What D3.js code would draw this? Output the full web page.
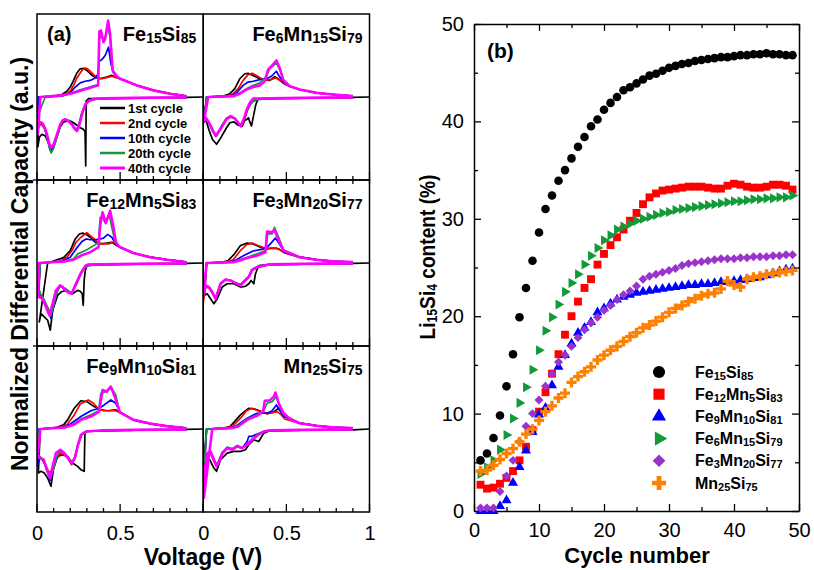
<!DOCTYPE html>
<html>
<head>
<meta charset="utf-8">
<script src="https://cdn.jsdelivr.net/npm/d3@7"></script>
<style>
  body { margin: 0; background: #fff; }
  text { font-family: "Liberation Sans", Arial, sans-serif; }
</style>
</head>
<body>
<div id="chart"></div>
<script>
// ---------- panel (a): dQ/dV curves, values in half-panel units, [V, value] ----------
const cycleLabels = ['1st cycle', '2nd cycle', '10th cycle', '20th cycle', '40th cycle'];
const cycleColors = ['#000000', '#ff0000', '#0000ff', '#129a3a', '#ff00ff'];

const titleFe15Si85 = ['Fe', '15', 'Si', '85'];
const titleFe6Mn15Si79 = ['Fe', '6', 'Mn', '15', 'Si', '79'];
const titleFe12Mn5Si83 = ['Fe', '12', 'Mn', '5', 'Si', '83'];
const titleFe3Mn20Si77 = ['Fe', '3', 'Mn', '20', 'Si', '77'];
const titleFe9Mn10Si81 = ['Fe', '9', 'Mn', '10', 'Si', '81'];
const titleMn25Si75 = ['Mn', '25', 'Si', '75'];

const tailFe15Si85 = [[0.50,0.22],[0.55,0.18],[0.60,0.14],[0.70,0.08],[0.80,0.04],[0.90,0.01]];
const chargeFe15Si85 = [
  [[0.01,0],[0.10,0.01],[0.15,0.03],[0.18,0.07],[0.20,0.12],[0.22,0.20],[0.24,0.29],[0.26,0.34],[0.28,0.345],[0.30,0.32],[0.32,0.28],[0.34,0.25],[0.36,0.23],[0.38,0.22],[0.40,0.23],[0.42,0.24],[0.45,0.26],[0.47,0.24]],
  [[0.01,0],[0.12,0.01],[0.17,0.03],[0.20,0.07],[0.22,0.14],[0.24,0.23],[0.27,0.32],[0.29,0.35],[0.31,0.33],[0.33,0.29],[0.35,0.25],[0.37,0.23],[0.39,0.22],[0.41,0.23],[0.43,0.24],[0.45,0.25],[0.47,0.24]],
  [[0.01,0],[0.15,0.01],[0.20,0.05],[0.23,0.12],[0.26,0.17],[0.29,0.19],[0.32,0.20],[0.35,0.23],[0.365,0.27],[0.375,0.43],[0.39,0.45],[0.41,0.50],[0.43,0.60],[0.445,0.40],[0.46,0.29],[0.48,0.24]],
  [[0.0,-0.25],[0.05,0],[0.15,0.02],[0.20,0.04],[0.25,0.08],[0.30,0.11],[0.35,0.14],[0.367,0.15],[0.375,0.70],[0.385,0.74],[0.40,0.68],[0.41,0.72],[0.428,0.86],[0.44,0.70],[0.455,0.32],[0.48,0.25]],
  [[0.005,-0.45],[0.02,0],[0.15,0.02],[0.20,0.04],[0.25,0.07],[0.30,0.10],[0.35,0.13],[0.368,0.14],[0.375,0.79],[0.385,0.80],[0.40,0.66],[0.41,0.70],[0.428,0.92],[0.44,0.75],[0.455,0.32],[0.48,0.25]]
];
const dischargeFe15Si85 = [
  [[1.0,0],[0.90,-0.005],[0.60,-0.01],[0.40,-0.015],[0.31,-0.02],[0.296,-0.05],[0.293,-0.83],[0.289,-0.42],[0.28,-0.39],[0.26,-0.37],[0.24,-0.34],[0.22,-0.31],[0.20,-0.29],[0.18,-0.29],[0.16,-0.30],[0.14,-0.36],[0.12,-0.48],[0.10,-0.60],[0.085,-0.67],[0.07,-0.56],[0.05,-0.47],[0.03,-0.45],[0.015,-0.48],[0.005,-0.60]],
  [[0.90,-0.01],[0.60,-0.015],[0.40,-0.02],[0.34,-0.03],[0.31,-0.05],[0.29,-0.10],[0.27,-0.20],[0.255,-0.32],[0.24,-0.40],[0.225,-0.38],[0.21,-0.33],[0.19,-0.29],[0.17,-0.27],[0.155,-0.28],[0.14,-0.33],[0.12,-0.46],[0.10,-0.58],[0.085,-0.62],[0.075,-0.58],[0.06,-0.46],[0.045,-0.38],[0.03,-0.34],[0.015,-0.33],[0.005,-0.40]],
  [[0.90,-0.01],[0.60,-0.015],[0.40,-0.02],[0.34,-0.03],[0.31,-0.05],[0.29,-0.10],[0.27,-0.19],[0.255,-0.31],[0.24,-0.39],[0.225,-0.37],[0.21,-0.32],[0.19,-0.28],[0.17,-0.27],[0.155,-0.28],[0.14,-0.34],[0.12,-0.48],[0.10,-0.60],[0.085,-0.65],[0.075,-0.60],[0.06,-0.47],[0.045,-0.37],[0.03,-0.32],[0.015,-0.30],[0.005,-0.35]],
  [[0.90,-0.01],[0.60,-0.015],[0.40,-0.02],[0.34,-0.03],[0.31,-0.05],[0.29,-0.10],[0.27,-0.19],[0.255,-0.31],[0.24,-0.40],[0.225,-0.38],[0.21,-0.33],[0.19,-0.29],[0.17,-0.27],[0.155,-0.28],[0.14,-0.34],[0.12,-0.49],[0.10,-0.62],[0.085,-0.67],[0.075,-0.62],[0.06,-0.48],[0.045,-0.37],[0.03,-0.32],[0.015,-0.30],[0.003,-0.28]],
  [[0.90,-0.005],[0.60,-0.01],[0.40,-0.015],[0.34,-0.025],[0.31,-0.05],[0.29,-0.09],[0.275,-0.18],[0.262,-0.28],[0.25,-0.37],[0.24,-0.41],[0.225,-0.38],[0.21,-0.33],[0.19,-0.29],[0.17,-0.27],[0.155,-0.28],[0.14,-0.33],[0.12,-0.45],[0.10,-0.57],[0.085,-0.61],[0.075,-0.57],[0.06,-0.45],[0.045,-0.36],[0.03,-0.31],[0.015,-0.30],[0.005,-0.40]]
];

const tailFe6Mn15Si79 = [[0.52,0.13],[0.58,0.09],[0.68,0.05],[0.78,0.03],[0.90,0.01]];
const chargeFe6Mn15Si79 = [
  [[0.02,0],[0.12,0.01],[0.16,0.04],[0.19,0.10],[0.22,0.22],[0.25,0.28],[0.27,0.285],[0.30,0.26],[0.33,0.23],[0.36,0.21],[0.40,0.20],[0.43,0.245],[0.45,0.22],[0.48,0.17]],
  [[0.02,0],[0.14,0.01],[0.18,0.04],[0.21,0.10],[0.24,0.20],[0.27,0.27],[0.295,0.285],[0.32,0.26],[0.35,0.22],[0.38,0.21],[0.41,0.21],[0.435,0.23],[0.455,0.21],[0.48,0.17]],
  [[0.02,0],[0.16,0.01],[0.20,0.05],[0.24,0.14],[0.27,0.18],[0.30,0.19],[0.34,0.21],[0.38,0.22],[0.41,0.25],[0.44,0.31],[0.46,0.24],[0.49,0.16]],
  [[0.02,0],[0.18,0.01],[0.22,0.05],[0.26,0.10],[0.30,0.14],[0.34,0.17],[0.38,0.25],[0.40,0.34],[0.44,0.41],[0.465,0.31],[0.49,0.17]],
  [[0.005,-0.28],[0.03,0],[0.18,0.01],[0.22,0.04],[0.26,0.09],[0.30,0.12],[0.34,0.14],[0.37,0.19],[0.39,0.33],[0.41,0.37],[0.44,0.44],[0.46,0.35],[0.48,0.21]]
];
const dischargeFe6Mn15Si79 = [
  [[1.0,0],[0.90,-0.005],[0.60,-0.01],[0.40,-0.015],[0.33,-0.02],[0.315,-0.10],[0.305,-0.20],[0.29,-0.35],[0.28,-0.30],[0.272,-0.25],[0.262,-0.27],[0.25,-0.28],[0.235,-0.35],[0.21,-0.34],[0.185,-0.30],[0.16,-0.31],[0.14,-0.37],[0.10,-0.51],[0.08,-0.57],[0.055,-0.51],[0.035,-0.40],[0.02,-0.30],[0.005,-0.25]],
  [[0.90,-0.01],[0.60,-0.015],[0.40,-0.02],[0.33,-0.03],[0.30,-0.05],[0.28,-0.10],[0.262,-0.18],[0.245,-0.30],[0.228,-0.36],[0.21,-0.31],[0.19,-0.26],[0.165,-0.24],[0.14,-0.27],[0.11,-0.36],[0.08,-0.46],[0.06,-0.42],[0.04,-0.33],[0.02,-0.27],[0.005,-0.30]],
  [[0.90,-0.01],[0.60,-0.015],[0.40,-0.02],[0.33,-0.03],[0.30,-0.05],[0.28,-0.09],[0.262,-0.17],[0.245,-0.28],[0.228,-0.35],[0.21,-0.31],[0.19,-0.26],[0.165,-0.24],[0.14,-0.26],[0.11,-0.35],[0.08,-0.46],[0.06,-0.42],[0.04,-0.33],[0.02,-0.27],[0.005,-0.30]],
  [[0.90,-0.01],[0.60,-0.015],[0.40,-0.02],[0.33,-0.03],[0.30,-0.05],[0.28,-0.09],[0.262,-0.16],[0.245,-0.27],[0.228,-0.35],[0.21,-0.31],[0.19,-0.26],[0.165,-0.24],[0.14,-0.26],[0.11,-0.35],[0.08,-0.47],[0.06,-0.43],[0.04,-0.34],[0.02,-0.27],[0.005,-0.29]],
  [[0.90,-0.005],[0.60,-0.01],[0.40,-0.015],[0.33,-0.02],[0.30,-0.02],[0.28,-0.07],[0.262,-0.15],[0.245,-0.26],[0.225,-0.35],[0.21,-0.31],[0.19,-0.26],[0.165,-0.23],[0.14,-0.26],[0.11,-0.37],[0.075,-0.47],[0.055,-0.39],[0.035,-0.31],[0.015,-0.25],[0.005,-0.28]]
];

const tailFe12Mn5Si83 = [[0.50,0.19],[0.58,0.12],[0.68,0.07],[0.78,0.04],[0.90,0.01]];
const chargeFe12Mn5Si83 = [
  [[0.014,-0.71],[0.064,0],[0.16,0.065],[0.20,0.15],[0.23,0.29],[0.255,0.35],[0.275,0.36],[0.30,0.34],[0.32,0.31],[0.35,0.25],[0.38,0.23],[0.42,0.24],[0.45,0.25],[0.48,0.21]],
  [[0.02,0],[0.14,0.02],[0.18,0.07],[0.21,0.15],[0.235,0.25],[0.264,0.31],[0.30,0.365],[0.32,0.33],[0.345,0.29],[0.37,0.24],[0.40,0.23],[0.43,0.23],[0.46,0.25],[0.49,0.21]],
  [[0.02,0],[0.15,0.02],[0.20,0.07],[0.235,0.17],[0.27,0.26],[0.295,0.29],[0.32,0.28],[0.35,0.28],[0.38,0.29],[0.40,0.30],[0.425,0.345],[0.45,0.31],[0.48,0.21]],
  [[0.02,0],[0.17,0.02],[0.22,0.05],[0.245,0.11],[0.30,0.16],[0.35,0.22],[0.37,0.25],[0.38,0.55],[0.395,0.55],[0.408,0.49],[0.434,0.59],[0.45,0.43],[0.47,0.25],[0.49,0.21]],
  [[0.005,-0.41],[0.012,0],[0.17,0.02],[0.22,0.04],[0.265,0.09],[0.32,0.13],[0.37,0.19],[0.38,0.45],[0.394,0.61],[0.414,0.48],[0.44,0.63],[0.46,0.43],[0.475,0.25],[0.49,0.21]]
];
const dischargeFe12Mn5Si83 = [
  [[1.0,0],[0.90,-0.005],[0.60,-0.01],[0.40,-0.015],[0.30,-0.02],[0.29,-0.10],[0.284,-0.20],[0.278,-0.51],[0.272,-0.37],[0.26,-0.34],[0.244,-0.33],[0.214,-0.37],[0.174,-0.33],[0.144,-0.35],[0.124,-0.39],[0.094,-0.57],[0.08,-0.81],[0.064,-0.69],[0.044,-0.65],[0.024,-0.61],[0.014,-0.71]],
  [[0.90,-0.01],[0.60,-0.015],[0.40,-0.02],[0.31,-0.03],[0.29,-0.04],[0.264,-0.12],[0.234,-0.26],[0.21,-0.37],[0.19,-0.34],[0.164,-0.31],[0.14,-0.27],[0.12,-0.34],[0.10,-0.49],[0.078,-0.60],[0.06,-0.52],[0.034,-0.43],[0.015,-0.40],[0.01,-0.40]],
  [[0.90,-0.01],[0.60,-0.015],[0.40,-0.02],[0.31,-0.03],[0.28,-0.07],[0.26,-0.15],[0.234,-0.27],[0.21,-0.36],[0.19,-0.34],[0.164,-0.30],[0.14,-0.27],[0.12,-0.35],[0.10,-0.52],[0.084,-0.67],[0.065,-0.55],[0.04,-0.44],[0.02,-0.38],[0.01,-0.30]],
  [[0.90,-0.01],[0.60,-0.015],[0.40,-0.02],[0.31,-0.03],[0.28,-0.06],[0.26,-0.14],[0.234,-0.26],[0.21,-0.36],[0.19,-0.34],[0.164,-0.30],[0.14,-0.27],[0.12,-0.35],[0.10,-0.51],[0.082,-0.64],[0.065,-0.54],[0.04,-0.43],[0.02,-0.37],[0.01,-0.30]],
  [[0.90,-0.005],[0.60,-0.01],[0.40,-0.015],[0.31,-0.02],[0.294,-0.03],[0.264,-0.12],[0.234,-0.25],[0.208,-0.37],[0.184,-0.35],[0.164,-0.31],[0.14,-0.27],[0.114,-0.33],[0.094,-0.49],[0.074,-0.63],[0.054,-0.53],[0.034,-0.43],[0.014,-0.41],[0.005,-0.41]]
];

const tailFe3Mn20Si77 = [[0.58,0.07],[0.68,0.04],[0.78,0.02],[0.90,0.01]];
const chargeFe3Mn20Si77 = [
  [[0.02,0],[0.12,0.01],[0.15,0.03],[0.184,0.10],[0.224,0.21],[0.264,0.24],[0.30,0.23],[0.344,0.19],[0.384,0.17],[0.42,0.18],[0.454,0.17],[0.484,0.13]],
  [[0.02,0],[0.14,0.01],[0.18,0.04],[0.224,0.15],[0.26,0.22],[0.294,0.24],[0.33,0.21],[0.37,0.18],[0.41,0.18],[0.44,0.18],[0.46,0.16],[0.49,0.12]],
  [[0.02,0],[0.16,0.01],[0.20,0.04],[0.244,0.09],[0.30,0.145],[0.364,0.17],[0.394,0.21],[0.434,0.30],[0.464,0.21],[0.49,0.13]],
  [[0.02,0],[0.18,0.01],[0.22,0.04],[0.264,0.07],[0.324,0.11],[0.374,0.15],[0.388,0.35],[0.414,0.35],[0.428,0.43],[0.454,0.31],[0.484,0.15]],
  [[0.02,0],[0.18,0.01],[0.22,0.03],[0.264,0.06],[0.324,0.09],[0.374,0.13],[0.384,0.38],[0.414,0.37],[0.428,0.40],[0.454,0.27],[0.484,0.15]]
];
const dischargeFe3Mn20Si77 = [
  [[1.0,0],[0.90,-0.005],[0.60,-0.01],[0.40,-0.015],[0.334,-0.03],[0.314,-0.13],[0.304,-0.25],[0.288,-0.21],[0.274,-0.25],[0.254,-0.28],[0.224,-0.29],[0.184,-0.25],[0.144,-0.25],[0.114,-0.29],[0.084,-0.43],[0.064,-0.49],[0.044,-0.43],[0.024,-0.37],[0.008,-0.39]],
  [[0.90,-0.01],[0.60,-0.015],[0.40,-0.02],[0.33,-0.05],[0.294,-0.09],[0.274,-0.17],[0.254,-0.21],[0.224,-0.27],[0.194,-0.25],[0.164,-0.21],[0.134,-0.20],[0.104,-0.25],[0.084,-0.37],[0.074,-0.43],[0.054,-0.36],[0.034,-0.30],[0.014,-0.29],[0.0,-0.47]],
  [[0.90,-0.01],[0.60,-0.015],[0.40,-0.02],[0.33,-0.04],[0.294,-0.08],[0.274,-0.16],[0.254,-0.20],[0.224,-0.26],[0.194,-0.24],[0.164,-0.21],[0.134,-0.20],[0.104,-0.25],[0.084,-0.37],[0.074,-0.43],[0.054,-0.35],[0.034,-0.29],[0.014,-0.28],[0.005,-0.30]],
  [[0.90,-0.01],[0.60,-0.015],[0.40,-0.02],[0.33,-0.04],[0.294,-0.08],[0.274,-0.16],[0.254,-0.20],[0.224,-0.26],[0.194,-0.24],[0.164,-0.21],[0.134,-0.20],[0.104,-0.25],[0.084,-0.37],[0.074,-0.43],[0.054,-0.35],[0.034,-0.29],[0.014,-0.28],[0.005,-0.38]],
  [[0.90,-0.005],[0.60,-0.01],[0.40,-0.015],[0.324,-0.05],[0.294,-0.08],[0.274,-0.17],[0.254,-0.21],[0.224,-0.27],[0.194,-0.24],[0.164,-0.21],[0.134,-0.20],[0.104,-0.25],[0.084,-0.37],[0.074,-0.43],[0.054,-0.35],[0.034,-0.29],[0.014,-0.27],[0.004,-0.37]]
];

const tailFe9Mn10Si81 = [[0.50,0.20],[0.58,0.11],[0.68,0.065],[0.78,0.035],[0.90,0.01]];
const chargeFe9Mn10Si81 = [
  [[0.02,0],[0.12,0.02],[0.16,0.05],[0.184,0.11],[0.224,0.25],[0.264,0.34],[0.30,0.33],[0.344,0.27],[0.384,0.23],[0.424,0.22],[0.474,0.23]],
  [[0.02,0],[0.14,0.02],[0.18,0.05],[0.224,0.17],[0.26,0.30],[0.308,0.35],[0.34,0.31],[0.37,0.24],[0.40,0.22],[0.44,0.22],[0.47,0.22]],
  [[0.01,0],[0.16,0.02],[0.20,0.06],[0.264,0.15],[0.324,0.22],[0.374,0.25],[0.404,0.29],[0.444,0.35],[0.474,0.31],[0.494,0.23]],
  [[0.015,0],[0.17,0.02],[0.22,0.06],[0.264,0.12],[0.324,0.17],[0.37,0.22],[0.384,0.43],[0.414,0.45],[0.444,0.51],[0.474,0.41],[0.494,0.23]],
  [[0.02,0],[0.17,0.02],[0.22,0.05],[0.264,0.11],[0.324,0.15],[0.374,0.21],[0.394,0.47],[0.42,0.45],[0.444,0.51],[0.464,0.41],[0.494,0.23]]
];
const dischargeFe9Mn10Si81 = [
  [[1.0,0],[0.90,-0.005],[0.60,-0.01],[0.40,-0.02],[0.30,-0.025],[0.288,-0.05],[0.284,-0.51],[0.264,-0.49],[0.244,-0.45],[0.214,-0.41],[0.184,-0.33],[0.154,-0.31],[0.124,-0.33],[0.104,-0.41],[0.084,-0.69],[0.064,-0.59],[0.044,-0.53],[0.024,-0.51],[0.008,-0.53]],
  [[0.90,-0.01],[0.60,-0.015],[0.40,-0.02],[0.30,-0.03],[0.27,-0.06],[0.244,-0.20],[0.228,-0.34],[0.208,-0.43],[0.184,-0.35],[0.164,-0.31],[0.144,-0.29],[0.12,-0.36],[0.10,-0.47],[0.074,-0.53],[0.054,-0.45],[0.034,-0.38],[0.014,-0.33],[0.005,-0.30]],
  [[0.90,-0.01],[0.60,-0.015],[0.40,-0.02],[0.30,-0.03],[0.27,-0.06],[0.244,-0.21],[0.228,-0.35],[0.208,-0.42],[0.184,-0.34],[0.164,-0.29],[0.14,-0.26],[0.12,-0.34],[0.10,-0.48],[0.08,-0.62],[0.06,-0.50],[0.04,-0.38],[0.02,-0.34],[0.0,-0.45]],
  [[0.90,-0.01],[0.60,-0.015],[0.40,-0.02],[0.30,-0.03],[0.27,-0.06],[0.244,-0.21],[0.228,-0.35],[0.208,-0.42],[0.184,-0.34],[0.164,-0.29],[0.14,-0.26],[0.12,-0.33],[0.10,-0.47],[0.08,-0.60],[0.06,-0.49],[0.04,-0.37],[0.02,-0.34],[0.0,-0.30]],
  [[0.90,-0.005],[0.60,-0.01],[0.40,-0.015],[0.294,-0.03],[0.264,-0.07],[0.244,-0.21],[0.228,-0.35],[0.208,-0.41],[0.184,-0.34],[0.164,-0.29],[0.14,-0.25],[0.114,-0.29],[0.094,-0.45],[0.08,-0.59],[0.06,-0.49],[0.04,-0.37],[0.02,-0.35],[0.004,-0.33]]
];

const tailMn25Si75 = [[0.58,0.07],[0.68,0.04],[0.78,0.02],[0.90,0.01]];
const chargeMn25Si75 = [
  [[0.02,0],[0.12,0.01],[0.16,0.03],[0.184,0.08],[0.224,0.17],[0.274,0.25],[0.31,0.24],[0.35,0.21],[0.384,0.185],[0.42,0.20],[0.454,0.25],[0.484,0.17]],
  [[0.02,0],[0.14,0.01],[0.18,0.04],[0.224,0.13],[0.26,0.22],[0.294,0.25],[0.33,0.22],[0.384,0.185],[0.444,0.21],[0.464,0.18],[0.49,0.12]],
  [[0.02,0],[0.16,0.01],[0.20,0.04],[0.264,0.13],[0.324,0.19],[0.384,0.19],[0.414,0.22],[0.44,0.29],[0.464,0.21],[0.484,0.15]],
  [[0.02,0],[0.17,0.01],[0.21,0.04],[0.264,0.12],[0.324,0.17],[0.364,0.22],[0.384,0.31],[0.414,0.33],[0.44,0.39],[0.464,0.25],[0.484,0.17]],
  [[0.004,-0.83],[0.054,0],[0.17,0.01],[0.21,0.03],[0.264,0.11],[0.324,0.16],[0.36,0.21],[0.37,0.34],[0.40,0.345],[0.424,0.39],[0.434,0.44],[0.454,0.31],[0.48,0.20],[0.52,0.12]]
];
const dischargeMn25Si75 = [
  [[1.0,0],[0.90,-0.01],[0.60,-0.015],[0.40,-0.02],[0.364,-0.05],[0.334,-0.15],[0.304,-0.13],[0.274,-0.19],[0.254,-0.25],[0.224,-0.27],[0.184,-0.27],[0.144,-0.29],[0.104,-0.37],[0.08,-0.51],[0.064,-0.47],[0.034,-0.35],[0.008,-0.29]],
  [[0.90,-0.01],[0.60,-0.015],[0.40,-0.02],[0.364,-0.03],[0.324,-0.07],[0.294,-0.13],[0.264,-0.19],[0.234,-0.23],[0.204,-0.21],[0.174,-0.25],[0.144,-0.23],[0.114,-0.29],[0.09,-0.41],[0.08,-0.45],[0.064,-0.39],[0.044,-0.29],[0.024,-0.31],[0.008,-0.45]],
  [[0.90,-0.01],[0.60,-0.015],[0.40,-0.02],[0.364,-0.03],[0.324,-0.06],[0.29,-0.09],[0.274,-0.09],[0.264,-0.15],[0.234,-0.23],[0.204,-0.20],[0.174,-0.24],[0.144,-0.22],[0.114,-0.28],[0.09,-0.40],[0.08,-0.43],[0.064,-0.37],[0.044,-0.28],[0.024,-0.30],[0.008,-0.42]],
  [[0.90,-0.01],[0.60,-0.015],[0.40,-0.02],[0.364,-0.03],[0.324,-0.07],[0.294,-0.12],[0.264,-0.18],[0.234,-0.23],[0.204,-0.20],[0.174,-0.24],[0.144,-0.22],[0.114,-0.29],[0.09,-0.40],[0.08,-0.44],[0.064,-0.37],[0.044,-0.28],[0.024,-0.30],[0.008,-0.40]],
  [[0.90,-0.005],[0.60,-0.01],[0.40,-0.015],[0.364,-0.03],[0.324,-0.08],[0.294,-0.13],[0.264,-0.19],[0.234,-0.23],[0.204,-0.21],[0.174,-0.25],[0.144,-0.23],[0.114,-0.30],[0.094,-0.40],[0.08,-0.45],[0.064,-0.37],[0.044,-0.27],[0.024,-0.29],[0.014,-0.45]]
];

// ---------- panel (b): Li15Si4 content (%) for cycles 1..49 ----------
const liFe15Si85 = [5.2,5.9,7.5,9.8,12.8,16.1,19.9,22.9,25.7,28.6,31.0,32.4,33.9,35.0,36.2,37.4,38.4,39.5,40.2,41.2,41.9,42.5,43.2,43.5,43.9,44.3,44.7,44.9,45.2,45.5,45.7,45.9,46.0,46.2,46.3,46.4,46.5,46.6,46.6,46.7,46.8,46.8,46.9,46.9,47.0,46.9,46.9,46.8,46.8];
const liFe12Mn5Si83 = [2.7,2.3,2.4,2.8,3.4,4.1,5.2,6.6,8.3,10.2,12.2,14.1,16.1,18.1,20.0,21.5,22.9,23.8,25.3,26.4,27.3,28.1,28.9,29.8,30.6,31.5,32.2,32.6,32.9,33.0,33.1,33.2,33.3,33.3,33.3,33.2,33.1,33.1,33.4,33.6,33.5,33.3,33.2,33.2,33.3,33.5,33.5,33.4,33.0];
const liFe9Mn10Si81 = [0.0,0.0,0.0,0.5,1.1,2.9,4.5,6.2,8.1,9.9,10.6,12.9,14.8,16.0,17.2,18.3,18.8,19.4,20.4,20.8,21.3,21.7,22.0,22.2,22.4,22.5,22.6,22.7,22.8,22.9,23.0,23.1,23.2,23.2,23.3,23.3,23.4,23.5,23.5,23.6,23.7,23.8,23.9,24.0,24.2,24.4,24.6,24.8,24.9];
const liFe6Mn15Si79 = [3.8,4.5,5.2,6.3,7.8,9.5,11.1,12.7,14.5,16.5,18.5,19.9,21.2,22.5,23.4,24.3,25.3,26.2,27.0,27.8,28.3,28.9,29.2,29.5,29.8,30.0,30.2,30.4,30.6,30.7,30.9,31.0,31.1,31.2,31.3,31.4,31.5,31.6,31.7,31.8,31.8,31.9,32.0,32.0,32.1,32.1,32.2,32.2,32.4];
const liFe3Mn20Si77 = [0.3,0.3,0.3,2.0,3.6,5.2,7.1,8.7,10.0,11.4,12.8,14.1,15.3,16.0,16.9,17.8,18.6,19.3,19.9,20.6,21.1,21.7,22.2,22.6,23.1,23.8,24.1,24.3,24.5,24.7,24.9,25.2,25.4,25.5,25.6,25.7,25.8,25.9,25.9,25.9,26.0,26.0,26.1,26.1,26.1,26.2,26.2,26.3,26.3];
const liMn25Si75 = [4.1,4.2,4.7,5.3,5.9,6.4,7.1,7.9,8.4,9.3,10.2,10.8,11.6,12.1,13.2,13.8,14.3,14.8,15.5,16.0,16.5,16.9,17.4,17.9,18.3,18.8,19.1,19.5,19.9,20.4,20.8,21.1,21.5,21.8,22.1,22.3,22.4,22.8,23.6,23.2,23.0,23.8,24.0,24.1,24.3,24.4,24.5,24.6,24.7];

const panelsA = [
  { title: titleFe15Si85, charge: chargeFe15Si85, discharge: dischargeFe15Si85, tail: tailFe15Si85 },
  { title: titleFe6Mn15Si79, charge: chargeFe6Mn15Si79, discharge: dischargeFe6Mn15Si79, tail: tailFe6Mn15Si79 },
  { title: titleFe12Mn5Si83, charge: chargeFe12Mn5Si83, discharge: dischargeFe12Mn5Si83, tail: tailFe12Mn5Si83 },
  { title: titleFe3Mn20Si77, charge: chargeFe3Mn20Si77, discharge: dischargeFe3Mn20Si77, tail: tailFe3Mn20Si77 },
  { title: titleFe9Mn10Si81, charge: chargeFe9Mn10Si81, discharge: dischargeFe9Mn10Si81, tail: tailFe9Mn10Si81 },
  { title: titleMn25Si75, charge: chargeMn25Si75, discharge: dischargeMn25Si75, tail: tailMn25Si75 }
];

const seriesB = [
  { title: titleFe15Si85, values: liFe15Si85, color: '#000000', shape: d3.symbolCircle, size: 58, rot: 0 },
  { title: titleFe12Mn5Si83, values: liFe12Mn5Si83, color: '#ff0000', shape: d3.symbolSquare, size: 62, rot: 0 },
  { title: titleFe9Mn10Si81, values: liFe9Mn10Si81, color: '#0000ff', shape: d3.symbolTriangle, size: 44, rot: 0 },
  { title: titleFe6Mn15Si79, values: liFe6Mn15Si79, color: '#129a3a', shape: d3.symbolTriangle, size: 44, rot: 90 },
  { title: titleFe3Mn20Si77, values: liFe3Mn20Si77, color: '#9933cc', shape: d3.symbolSquare, size: 40, rot: 45 },
  { title: titleMn25Si75, values: liMn25Si75, color: '#ff8000', shape: d3.symbolCross, size: 56, rot: 0 }
];

const svg = d3.select('#chart').append('svg')
  .attr('width', 814)
  .attr('height', 570);

// writes a formula like Fe15Si85 with smaller, slightly lowered numbers
function formula(text, parts, mainSize, subSize) {
  parts.forEach((p, k) => {
    const sub = k % 2 === 1;
    text.append('tspan')
      .attr('font-size', sub ? subSize : mainSize)
      .attr('dy', k === 0 ? 0 : (sub ? 2 : -2))
      .text(p);
  });
}

// ================= panel (a) =================
function drawPanelA() {
  const left = 37, right = 369.5, top = 14, bottom = 512;
  const colW = (right - left) / 2, rowH = (bottom - top) / 3;
  const defs = svg.append('defs');

  panelsA.forEach((p, i) => {
    const col = i % 2, row = Math.floor(i / 2);
    const x0 = left + col * colW, y0 = top + row * rowH;
    const x = d3.scaleLinear().domain([0, 1]).range([x0, x0 + colW]);
    const y = d3.scaleLinear().domain([-1, 1]).range([y0 + rowH, y0]);

    defs.append('clipPath').attr('id', 'clip' + i)
      .append('rect').attr('x', x0).attr('y', y0).attr('width', colW).attr('height', rowH);

    const line = d3.line().x(d => x(d[0])).y(d => y(d[1]));
    const g = svg.append('g').attr('clip-path', `url(#clip${i})`);
    p.charge.forEach((c, k) => {
      const pts = p.discharge[k].concat(c, p.tail);
      g.append('path')
        .attr('d', line(pts))
        .attr('fill', 'none')
        .attr('stroke', cycleColors[k])
        .attr('stroke-width', k === 4 ? 2.6 : 1.7)
        .attr('stroke-linejoin', 'round');
    });

    // frame
    svg.append('rect')
      .attr('x', x0).attr('y', y0).attr('width', colW).attr('height', rowH)
      .attr('fill', 'none').attr('stroke', '#000').attr('stroke-width', 1.5);

    // ticks on the bottom edge (crossing the edge between rows)
    const isLast = row === 2;
    const ticks = svg.append('g');
    d3.range(0, 11).forEach(t => {
      const major = t % 5 === 0;
      ticks.append('line')
        .attr('x1', x(t / 10)).attr('x2', x(t / 10))
        .attr('y1', y0 + rowH - (major ? 8 : 4))
        .attr('y2', y0 + rowH + (isLast ? 0 : 4))
        .attr('stroke', '#000').attr('stroke-width', 1.3);
    });
    if (!isLast && col === 0) {
      ticks.append('line')
        .attr('x1', x0 - 4).attr('x2', x0)
        .attr('y1', y0 + rowH).attr('y2', y0 + rowH)
        .attr('stroke', '#000').attr('stroke-width', 1.3);
    }

    if (isLast) {
      const axis = d3.axisBottom(x)
        .tickValues(col === 0 ? [0, 0.5] : [0, 0.5, 1])
        .tickSize(0).tickPadding(14)
        .tickFormat(d3.format(''));
      svg.append('g')
        .attr('transform', `translate(0,${y0 + rowH})`)
        .call(axis)
        .call(a => a.select('.domain').remove())
        .selectAll('text')
        .attr('font-size', 20)
        .attr('font-family', '"Liberation Sans", Arial, sans-serif')
        .attr('fill', '#000');
    }

    const t = svg.append('text')
      .attr('x', x0 + colW - 7)
      .attr('y', y0 + 27)
      .attr('text-anchor', 'end')
      .attr('font-weight', 'bold');
    formula(t, p.title, 20, 14);
  });

  svg.append('text')
    .attr('x', 47).attr('y', 41)
    .attr('font-size', 20).attr('font-weight', 'bold')
    .text('(a)');

  // legend of cycles
  const lg = svg.append('g');
  cycleLabels.forEach((lab, k) => {
    const yy = 108 + k * 15;
    lg.append('line')
      .attr('x1', 100).attr('x2', 125).attr('y1', yy).attr('y2', yy)
      .attr('stroke', cycleColors[k]).attr('stroke-width', k === 4 ? 3 : 2.5);
    lg.append('text')
      .attr('x', 128).attr('y', yy + 4.5)
      .attr('font-size', 13).attr('font-weight', 'bold')
      .text(lab);
  });

  svg.append('text')
    .attr('transform', 'translate(28,264) rotate(-90)')
    .attr('text-anchor', 'middle')
    .attr('font-size', 23).attr('font-weight', 'bold')
    .text('Normalized Differential Capacity (a.u.)');

  svg.append('text')
    .attr('x', 203).attr('y', 565)
    .attr('text-anchor', 'middle')
    .attr('font-size', 23).attr('font-weight', 'bold')
    .text('Voltage (V)');
}

// ================= panel (b) =================
function drawPanelB() {
  const x = d3.scaleLinear().domain([0, 50]).range([474, 799]);
  const y = d3.scaleLinear().domain([0, 50]).range([511, 24]);
  const major = [0, 10, 20, 30, 40, 50];
  const minor = [5, 15, 25, 35, 45];

  function styleAxis(sel) {
    sel.selectAll('.domain').attr('stroke-width', 1.5);
    sel.selectAll('.tick line').attr('stroke-width', 1.3);
    sel.selectAll('text')
      .attr('font-size', 20)
      .attr('font-family', '"Liberation Sans", Arial, sans-serif')
      .attr('fill', '#000');
  }

  svg.append('g').attr('transform', 'translate(0,511)')
    .call(d3.axisBottom(x).tickValues(major).tickSizeInner(-7).tickSizeOuter(0).tickPadding(12))
    .call(styleAxis);
  svg.append('g').attr('transform', 'translate(474,0)')
    .call(d3.axisLeft(y).tickValues(major).tickSizeInner(-7).tickSizeOuter(0).tickPadding(10))
    .call(styleAxis);
  svg.append('g').attr('transform', 'translate(0,24)')
    .call(d3.axisTop(x).tickValues(major).tickSizeInner(-7).tickSizeOuter(0).tickFormat(''))
    .call(styleAxis);
  svg.append('g').attr('transform', 'translate(799,0)')
    .call(d3.axisRight(y).tickValues(major).tickSizeInner(-7).tickSizeOuter(0).tickFormat(''))
    .call(styleAxis);

  [[d3.axisBottom(x), 'translate(0,511)'], [d3.axisTop(x), 'translate(0,24)'],
   [d3.axisLeft(y), 'translate(474,0)'], [d3.axisRight(y), 'translate(799,0)']].forEach(([ax, tr]) => {
    svg.append('g').attr('transform', tr)
      .call(ax.tickValues(minor).tickSize(-4).tickFormat(''))
      .call(a => a.select('.domain').remove())
      .selectAll('.tick line').attr('stroke-width', 1.3);
  });

  seriesB.forEach(s => {
    const sym = d3.symbol().type(s.shape).size(s.size);
    svg.append('g').selectAll('path')
      .data(s.values)
      .join('path')
      .attr('d', sym)
      .attr('transform', (d, i) => `translate(${x(i + 1)},${y(d)}) rotate(${s.rot})`)
      .attr('fill', s.color);
  });

  // legend
  seriesB.forEach((s, i) => {
    const yy = 372 + i * 22.2;
    svg.append('path')
      .attr('d', d3.symbol().type(s.shape).size(s.size * 2)())
      .attr('transform', `translate(659,${yy}) rotate(${s.rot})`)
      .attr('fill', s.color);
    const t = svg.append('text')
      .attr('x', 695).attr('y', yy + 5.5)
      .attr('font-weight', 'bold');
    formula(t, s.title, 16, 11);
  });

  svg.append('text')
    .attr('x', 487).attr('y', 58)
    .attr('font-size', 21).attr('font-weight', 'bold')
    .text('(b)');

  svg.append('text')
    .attr('x', 637).attr('y', 563)
    .attr('text-anchor', 'middle')
    .attr('font-size', 22).attr('font-weight', 'bold')
    .text('Cycle number');

  // the original label is set in a narrow face, so squeeze it along its length
  const yl = svg.append('text')
    .attr('transform', 'translate(435,257) rotate(-90) scale(0.87,1)')
    .attr('text-anchor', 'middle')
    .attr('font-weight', 'bold');
  formula(yl, ['Li', '15', 'Si', '4', ' content (%)'], 22, 14);
}

drawPanelA();
drawPanelB();
</script>
</body>
</html>
